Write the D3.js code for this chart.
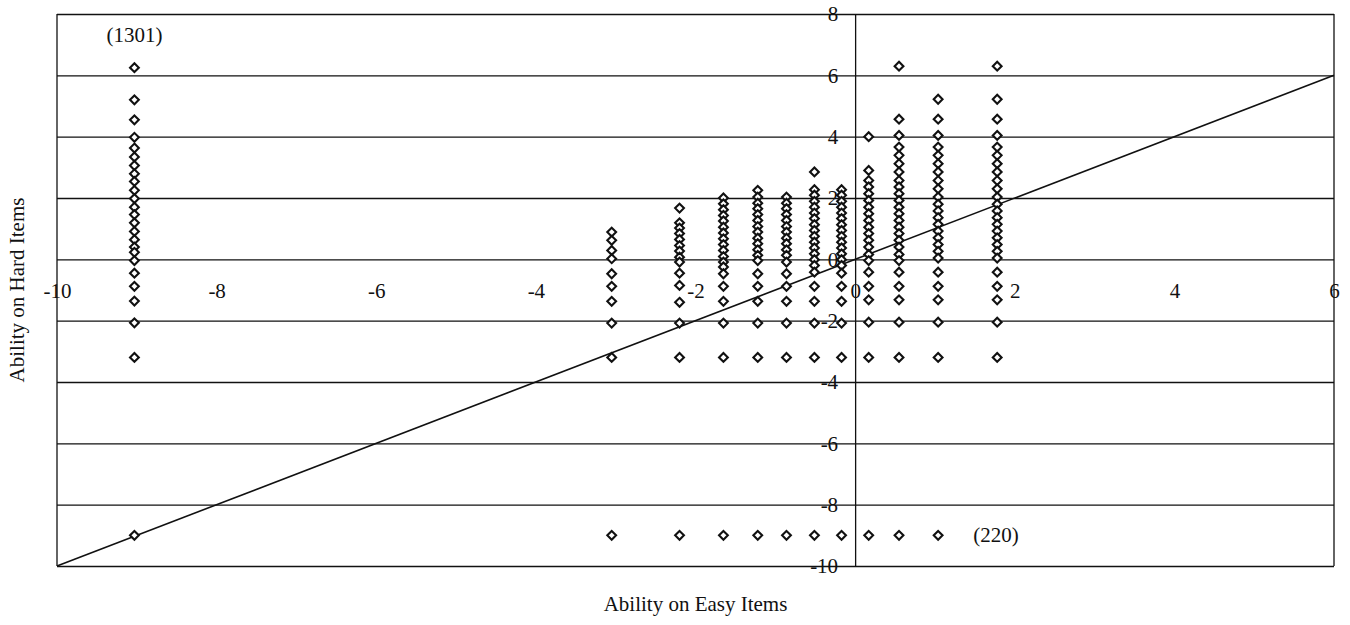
<!DOCTYPE html>
<html>
<head>
<meta charset="utf-8">
<script src="https://cdn.jsdelivr.net/npm/d3@7"></script>
<style>
  body { margin: 0; background: #fff; }
  svg { display: block; }
  text { font-family: "Liberation Serif", "Times New Roman", serif; fill: #111; }
</style>
</head>
<body>
<div id="chart"></div>
<script>
// ability on easy items, one value per column of points
const easyAbility = [-9.03, -3.05, -2.20, -1.65, -1.22, -0.86, -0.51, -0.17, 0.17, 0.55, 1.04, 1.78];

// ability on hard items, one list per column (same order as easyAbility)
const hardAbility = [
  [6.25, 5.2, 4.55, 3.98, 3.63, 3.34, 3.06, 2.79, 2.54, 2.25, 1.98, 1.70, 1.46, 1.19, 0.91, 0.64, 0.40, 0.23, -0.04, -0.45, -0.88, -1.36, -2.07, -3.2, -9.0],
  [0.89, 0.62, 0.29, 0.02, -0.47, -0.88, -1.37, -2.08, -3.2, -9.0],
  [1.67, 1.19, 1.02, 0.84, 0.65, 0.45, 0.27, 0.07, -0.09, -0.45, -0.85, -1.40, -2.08, -3.2, -9.0],
  [2.0, 1.81, 1.62, 1.43, 1.25, 1.05, 0.86, 0.67, 0.48, 0.29, 0.09, -0.09, -0.25, -0.47, -0.88, -1.37, -2.08, -3.2, -9.0],
  [2.25, 2.03, 1.83, 1.65, 1.46, 1.27, 1.07, 0.89, 0.69, 0.51, 0.31, 0.13, -0.04, -0.47, -0.88, -1.37, -2.08, -3.2, -9.0],
  [2.03, 1.83, 1.65, 1.46, 1.27, 1.07, 0.89, 0.69, 0.51, 0.31, 0.13, -0.09, -0.47, -0.88, -1.37, -2.08, -3.2, -9.0],
  [2.85, 2.27, 2.09, 1.89, 1.70, 1.51, 1.33, 1.13, 0.94, 0.75, 0.56, 0.37, 0.18, -0.01, -0.20, -0.42, -0.88, -1.37, -2.08, -3.2, -9.0],
  [2.27, 2.09, 1.89, 1.70, 1.51, 1.33, 1.13, 0.94, 0.75, 0.56, 0.37, 0.18, -0.01, -0.20, -0.45, -0.88, -1.37, -2.08, -3.2, -9.0],
  [4.0, 2.9, 2.57, 2.36, 2.14, 1.92, 1.70, 1.49, 1.27, 1.05, 0.84, 0.62, 0.40, 0.16, -0.04, -0.42, -0.88, -1.32, -2.05, -3.2, -9.0],
  [6.3, 4.57, 4.04, 3.66, 3.39, 3.12, 2.85, 2.57, 2.36, 2.14, 1.92, 1.70, 1.49, 1.27, 1.05, 0.84, 0.62, 0.40, 0.16, -0.04, -0.42, -0.88, -1.32, -2.05, -3.2, -9.0],
  [5.22, 4.57, 4.04, 3.66, 3.39, 3.12, 2.85, 2.57, 2.30, 2.03, 1.80, 1.58, 1.36, 1.14, 0.92, 0.70, 0.48, 0.26, 0.04, -0.42, -0.88, -1.32, -2.05, -3.2, -9.0],
  [6.3, 5.22, 4.57, 4.04, 3.66, 3.39, 3.12, 2.85, 2.57, 2.30, 2.03, 1.80, 1.58, 1.36, 1.14, 0.92, 0.70, 0.48, 0.26, 0.04, -0.42, -0.88, -1.32, -2.05, -3.2]
];

const xTicks = [-10, -8, -6, -4, -2, 0, 2, 4, 6];
const yTicks = [8, 6, 4, 2, 0, -2, -4, -6, -8, -10];
const identityLine = [-10, 6];

const notes = [
  { x: -9.03, y: 7.3, text: "(1301)" },
  { x: 1.48, y: -9.0, text: "(220)" }
];

const width = 1350, height = 625;
const fontSize = "21px";
const svg = d3.select("#chart").append("svg")
  .attr("width", width)
  .attr("height", height);

const x = d3.scaleLinear().domain([-10, 6]).range([57, 1334]);
const y = d3.scaleLinear().domain([-10, 8]).range([566, 14]);

// plain hyphen minus, like the original
const plain = d => String(d);

// horizontal gridlines
svg.append("g")
  .attr("transform", `translate(${x(-10)},0)`)
  .call(d3.axisLeft(y).tickValues(yTicks).tickSize(-(x(6) - x(-10))).tickFormat(""))
  .call(g => g.select(".domain").remove())
  .selectAll("line")
  .attr("stroke", "#111")
  .attr("stroke-width", 1.3);

// left and right borders
svg.append("g").selectAll("line")
  .data([-10, 6])
  .enter()
  .append("line")
  .attr("x1", d => x(d))
  .attr("x2", d => x(d))
  .attr("y1", y(8))
  .attr("y2", y(-10))
  .attr("stroke", "#111")
  .attr("stroke-width", 1.3);

// x axis labels sit below the y=0 line
svg.append("g")
  .attr("transform", `translate(0,${y(0)})`)
  .call(d3.axisBottom(x).tickValues(xTicks).tickSize(0).tickPadding(24).tickFormat(plain))
  .call(g => g.select(".domain").remove())
  .selectAll("text")
  .style("font-size", fontSize)
  .style("font-family", "Liberation Serif");

// y axis at x=0
let yAxisG = svg.append("g")
  .attr("transform", `translate(${x(0)},0)`)
  .call(d3.axisLeft(y).tickValues(yTicks).tickSize(0).tickPadding(17).tickFormat(plain));
yAxisG.select(".domain")
  .attr("stroke", "#111")
  .attr("stroke-width", 1.3);
yAxisG.selectAll("text")
  .style("font-size", fontSize)
  .style("font-family", "Liberation Serif");

// y = x reference line
svg.append("line")
  .attr("x1", x(identityLine[0]))
  .attr("y1", y(identityLine[0]))
  .attr("x2", x(identityLine[1]))
  .attr("y2", y(identityLine[1]))
  .attr("stroke", "#111")
  .attr("stroke-width", 1.6);

// flatten columns into points
let points = [];
easyAbility.forEach(function (ex, i) {
  hardAbility[i].forEach(function (hy) {
    points.push({ easy: ex, hard: hy });
  });
});

const diamond = "M0,-4.4L4.4,0L0,4.4L-4.4,0Z";
svg.append("g").selectAll("path")
  .data(points)
  .enter()
  .append("path")
  .attr("d", diamond)
  .attr("transform", d => `translate(${x(d.easy)},${y(d.hard)})`)
  .attr("fill", "#fff")
  .attr("stroke", "#111")
  .attr("stroke-width", 2.1);

// count annotations
svg.append("g").selectAll("text")
  .data(notes)
  .enter()
  .append("text")
  .attr("x", d => x(d.x))
  .attr("y", d => y(d.y))
  .attr("dy", "0.32em")
  .attr("text-anchor", d => d.x < 0 ? "middle" : "start")
  .style("font-size", fontSize)
  .text(d => d.text);

// axis titles
svg.append("text")
  .attr("x", (x(-10) + x(6)) / 2)
  .attr("y", 611)
  .style("text-anchor", "middle")
  .style("font-size", fontSize)
  .text("Ability on Easy Items");

svg.append("text")
  .attr("transform", "rotate(-90)")
  .attr("x", -290)
  .attr("y", 24)
  .style("text-anchor", "middle")
  .style("font-size", fontSize)
  .text("Ability on Hard Items");
</script>
</body>
</html>
